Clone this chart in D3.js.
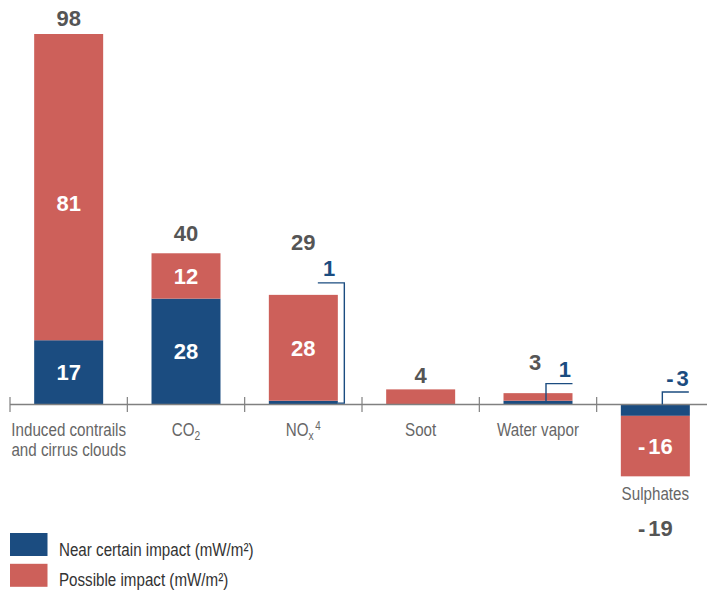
<!DOCTYPE html>
<html>
<head>
<meta charset="utf-8">
<script src="https://cdn.jsdelivr.net/npm/d3@7/dist/d3.min.js"></script>
<style>
  html, body { margin: 0; padding: 0; background: #fff; }
  svg { display: block; }
</style>
</head>
<body>
<svg id="chart" width="707" height="590"></svg>
<script>
// ---------- DATA ----------
const categories = ["Induced contrails and cirrus clouds", "CO2", "NOx", "Soot", "Water vapor", "Sulphates"];
const nearCertain = [17, 28, 1, 0, 1, -3];
const possible    = [81, 12, 28, 4, 2, -16];
const totals      = [98, 40, 29, 4, 3, -19];
const legendLabels = ["Near certain impact (mW/m²)", "Possible impact (mW/m²)"];

// ---------- STYLE ----------
const BLUE = "#1b4c80", RED = "#cd605a";
const NUM_FONT = "'Liberation Sans', Arial, sans-serif";
const TXT_FONT = "'Liberation Sans', Arial, sans-serif";
const NARROW = 0.82;

const svg = d3.select("#chart");

function condense(sel, ax) {
  sel.attr("transform", `translate(${ax},0) scale(${NARROW},1) translate(${-ax},0)`);
}

const x = d3.scaleBand().domain(categories).range([10, 714]).padding(0);
const barFrac = 0.588;
const bw = x.bandwidth() * barFrac;
const bx = c => x(c) + (x.bandwidth() - bw) / 2;
const cx = c => x(c) + x.bandwidth() / 2;

const y = d3.scaleLinear().domain([0, 98]).range([404.5, 34]);

// segments
const segs = [];
categories.forEach((c, i) => {
  const n = nearCertain[i], p = possible[i];
  segs.push({c, i, type: "near", y0: 0, y1: n, v: n});
  segs.push({c, i, type: "poss", y0: n, y1: n + p, v: p});
});

svg.append("g").selectAll("rect").data(segs.filter(d => d.v !== 0)).join("rect")
  .attr("x", d => bx(d.c))
  .attr("width", bw)
  .attr("y", d => Math.min(y(d.y0), y(d.y1)))
  .attr("height", d => Math.abs(y(d.y0) - y(d.y1)))
  .attr("fill", d => d.type === "near" ? BLUE : RED);

// axis line and ticks
const axisY = y(0);
svg.append("line").attr("x1", 10).attr("x2", 707).attr("y1", axisY).attr("y2", axisY)
  .attr("stroke", "#808080").attr("stroke-width", 1.3);
svg.append("g").selectAll("line").data(categories).join("line")
  .attr("x1", d => x(d)).attr("x2", d => x(d))
  .attr("y1", axisY - 7.5).attr("y2", axisY + 7.5)
  .attr("stroke", "#808080").attr("stroke-width", 1.2);

// helper for numbers with a gap after the minus sign
function numText(sel, v) {
  if (v < 0) {
    sel.append("tspan").text("-");
    sel.append("tspan").attr("dx", 3).text(Math.abs(v));
  } else sel.text(v);
}

// inside labels (big segments)
const innerShift = {0: 15.5};
segs.filter(d => Math.abs(y(d.y0) - y(d.y1)) > 30).forEach(d => {
  const shift = d.type === "poss" ? (innerShift[d.i] || 0) : 0;
  const t = svg.append("text")
    .attr("x", cx(d.c))
    .attr("y", (y(d.y0) + y(d.y1)) / 2 + shift)
    .attr("dy", "0.36em")
    .attr("text-anchor", "middle")
    .attr("font-family", NUM_FONT).attr("font-weight", "bold").attr("font-size", 22)
    .attr("fill", "#fff");
  numText(t, d.v);
});

// totals
const totalLift = [8, 12.5, 45, 6.5, 23.5];
categories.forEach((c, i) => {
  const v = totals[i];
  let yy;
  if (v >= 0) yy = y(v) - totalLift[i];
  else yy = 535.5;
  const t = svg.append("text")
    .attr("x", cx(c) - (i === 4 ? 3 : 0))
    .attr("y", yy)
    .attr("text-anchor", "middle")
    .attr("font-family", NUM_FONT).attr("font-weight", "bold").attr("font-size", 22)
    .attr("fill", "#555");
  numText(t, v);
});

// brackets for small near-certain segments
const brackets = [
  {i: 2, kind: "nox"},
  {i: 4, kind: "up"},
  {i: 5, kind: "up"}
];
brackets.forEach(b => {
  const c = categories[b.i];
  const v = nearCertain[b.i];
  const right = bx(c) + bw, mid = cx(c);
  const segMid = (y(0) + y(v)) / 2;
  let path, lx, ly;
  if (b.kind === "nox") {
    const top = y(totals[b.i]) - 12;
    path = d3.path();
    path.moveTo(right, segMid + 0.5);
    path.lineTo(right + 6.5, segMid + 0.5);
    path.lineTo(right + 6.5, top);
    path.lineTo(mid + 14.5, top);
    lx = right - 2.5; ly = top - 7;
  } else {
    const barTop = Math.min(y(nearCertain[b.i] + possible[b.i]), y(0));
    const top = v > 0 ? barTop - 9.5 : y(0) - 12.5;
    const vx = mid + (v > 0 ? 8 : 7);
    path = d3.path();
    path.moveTo(vx, v > 0 ? segMid : y(0));
    path.lineTo(vx, top);
    path.lineTo(right - (v > 0 ? 0 : 1), top);
    lx = right - (v > 0 ? 1.5 : 1); ly = top - (v > 0 ? 7 : 6);
  }
  svg.append("path").attr("d", path.toString())
    .attr("fill", "none").attr("stroke", BLUE).attr("stroke-width", 1.4);
  const t = svg.append("text")
    .attr("x", lx).attr("y", ly)
    .attr("text-anchor", "end")
    .attr("font-family", NUM_FONT).attr("font-weight", "bold").attr("font-size", 22)
    .attr("fill", BLUE);
  numText(t, v);
});

// category labels
const catG = svg.append("g")
  .attr("font-family", TXT_FONT).attr("font-size", 18.5).attr("fill", "#666")
  .attr("text-anchor", "middle");
categories.forEach((c, i) => {
  const neg = totals[i] < 0;
  const t = catG.append("text").attr("x", cx(c)).attr("y", neg ? 500 : 436.5);
  if (i === 0) {
    t.append("tspan").attr("x", cx(c)).text("Induced contrails");
    t.append("tspan").attr("x", cx(c)).attr("dy", 19.5).text("and cirrus clouds");
  } else if (c === "CO2") {
    t.append("tspan").text("CO");
    t.append("tspan").attr("font-size", 12.5).attr("dy", 4).text("2");
  } else if (c === "NOx") {
    t.append("tspan").text("NO");
    t.append("tspan").attr("font-size", 12.5).attr("dy", 4).text("x");
    t.append("tspan").attr("font-size", 12).attr("dx", 2).attr("dy", -10).text("4");
  } else {
    t.text(c);
  }
  condense(t, cx(c));
});

// legend
const legColors = [BLUE, RED];
const lg = svg.append("g");
legendLabels.forEach((l, i) => {
  lg.append("rect").attr("x", 10).attr("y", 533 + i * 30.8).attr("width", 37.5).attr("height", 23)
    .attr("fill", legColors[i]);
  const t = lg.append("text").attr("x", 59).attr("y", 556.5 + i * 30)
    .attr("font-family", TXT_FONT).attr("font-size", 18.5).attr("fill", "#333")
    .text(l);
  condense(t, 59);
});
</script>
</body>
</html>
